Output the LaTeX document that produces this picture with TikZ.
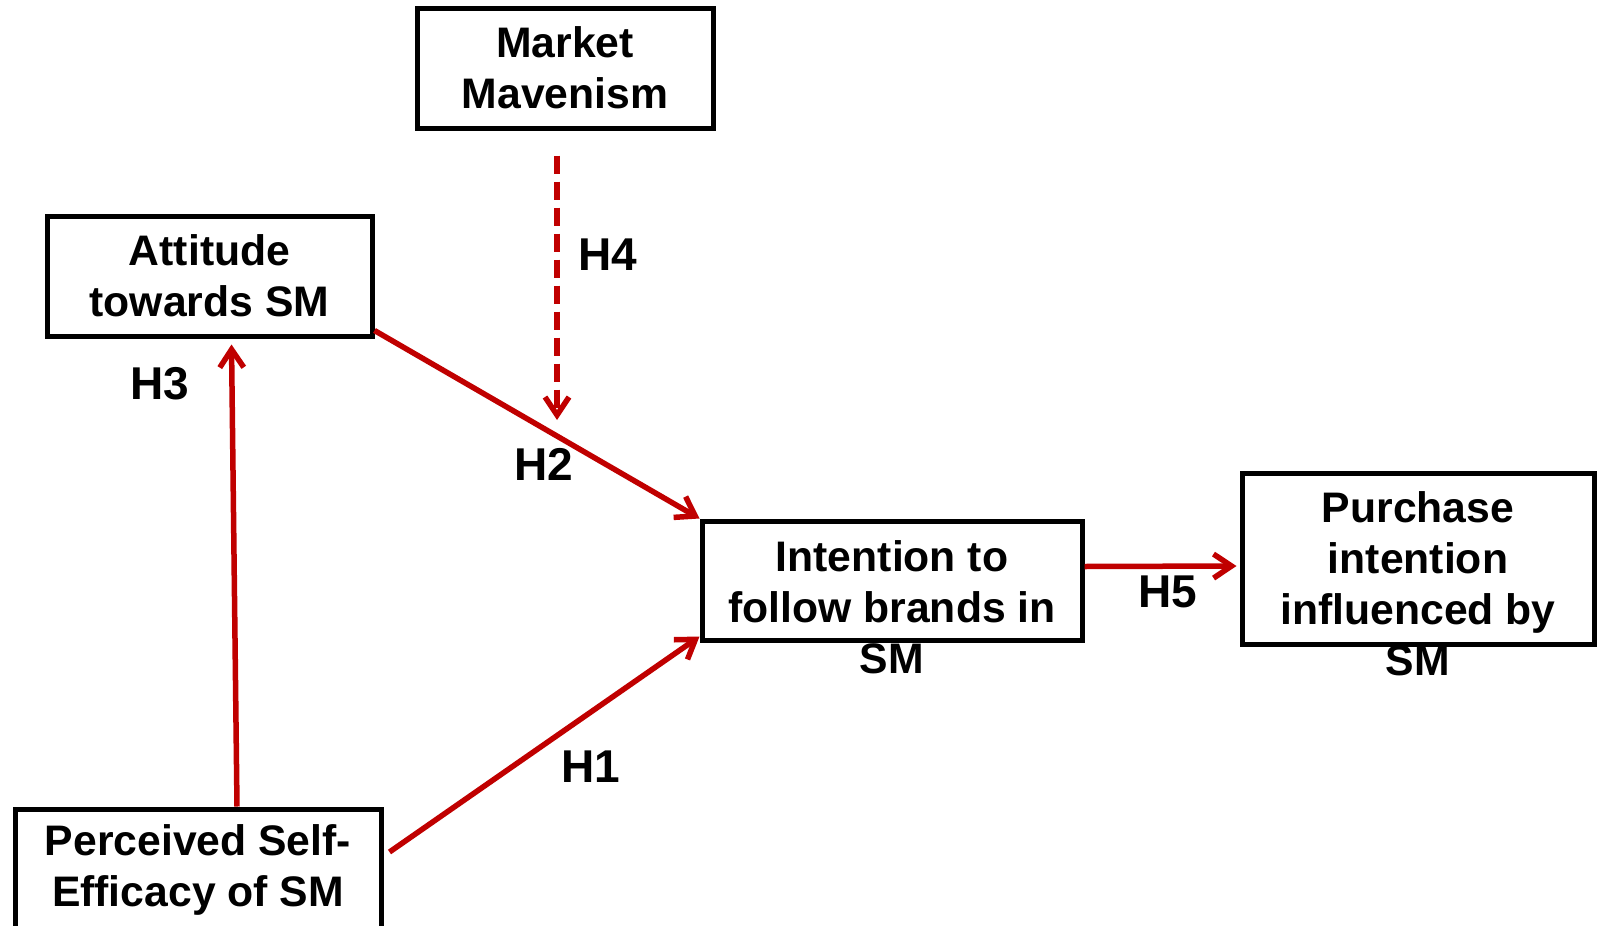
\documentclass[tikz,border=0pt]{standalone}
\usepackage{fontspec}
\setmainfont{Liberation Sans}
\usepackage{tikz}
\usetikzlibrary{arrows.meta,positioning,calc}
\definecolor{hred}{HTML}{C00000}
\tikzset{
  box/.style={draw,line width=5pt,inner sep=0pt,align=center},
  txt/.style={align=center,inner sep=0pt},
  arr/.style={hred,line width=5.5pt,-{Straight Barb[length=18pt,width=24pt]}},
  darr/.style={arr,dash pattern=on 18pt off 8pt},
  lbl/.style={inner sep=0pt,font=\fontsize{46}{51}\selectfont\bfseries},
}

\begin{document}
\begin{tikzpicture}[x=1pt,y=-1pt,every node/.style={font=\fontsize{42.7}{51}\selectfont\bfseries}]
 \useasboundingbox (0,0) rectangle (1598,926); \clip (0,0) rectangle (1598,926);
 \node[box,minimum width=296pt,minimum height=120pt] (mm) at (565,68){Market\\Mavenism};
 \node[box,minimum width=325pt,minimum height=120pt] (att) at (209.5,276){Attitude\\towards SM};
 \node[box,minimum width=380pt,minimum height=119pt] (int) at (892,580.5){};
 \node[txt] (intt) at (892,607){Intention to\\follow brands in\\SM};
 \node[box,minimum width=352pt,minimum height=171pt] (pur) at (1418,558.5){};
 \node[txt] (purt) at (1418,584){Purchase\\intention\\influenced by\\SM};
 \node[box,minimum width=366pt,minimum height=122pt] (pse) at (198,870){Perceived Self-\\Efficacy of SM};
 % hypotheses
 \coordinate (h4end) at (557,420);
 \draw[darr] ([shift={(-8,25)}]mm.south) -- (h4end);
 \draw[arr] ([yshift=8pt]att.south east) -- (int.north west);
 \draw[arr] ([shift={(6,-18)}]pse.east) -- ([yshift=6pt]int.south west);
 \draw[arr] ([xshift=39pt]pse.north) -- ([shift={(22,6)}]att.south);
 \draw[arr] ([yshift=14pt]int.east) -- ([shift={(-3,7.5)}]pur.west);
 \node[lbl] (h1) at (591,767){H1}; \node[lbl] (h2) at (544,464){H2}; \node[lbl] (h3) at (160,384){H3};
 \node[lbl] (h4) at (608,255){H4}; \node[lbl] (h5) at (1168,592){H5};
\end{tikzpicture}
\end{document}
